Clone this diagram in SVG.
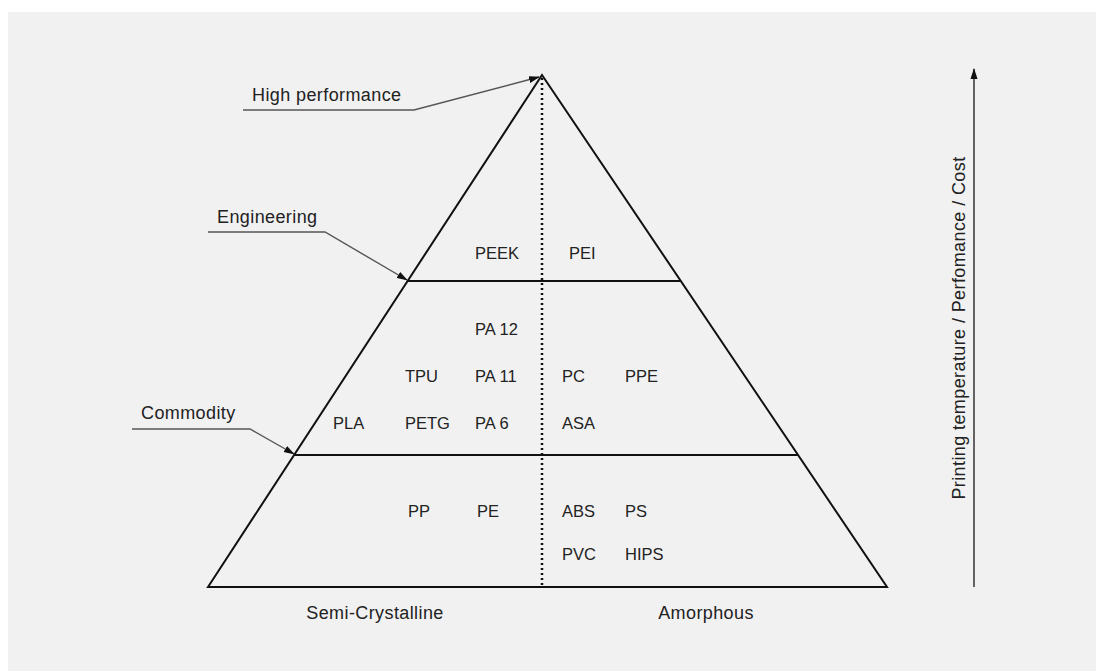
<svg xmlns="http://www.w3.org/2000/svg" width="1096" height="671" viewBox="0 0 1096 671">
<style>
text{font-family:"Liberation Sans",Arial,sans-serif;fill:#222}
.cap{font-size:18px;letter-spacing:0.4px}
.mat{font-size:16.5px}
.py{stroke:#111;stroke-width:2;fill:none}
.ld{stroke:#555;stroke-width:1.4;fill:none}
</style>
<defs>
<marker id="ah" markerWidth="11" markerHeight="8" refX="10" refY="4" orient="auto" markerUnits="userSpaceOnUse">
<path d="M0,0.5 L11,4 L0,7.5 Z" fill="#111"/>
</marker>
</defs>
<rect x="0" y="0" width="1096" height="671" fill="#fff"/>
<rect x="8" y="12" width="1088" height="659" fill="#f1f1f1"/>
<g id="pyramid">
<path class="py" d="M208,587 L542,75 L887,587 Z"/>
<line class="py" x1="407.6" y1="281" x2="680.8" y2="281"/>
<line class="py" x1="294" y1="455" x2="798" y2="455"/>
<line x1="542" y1="78" x2="542" y2="587" stroke="#111" stroke-width="2.5" stroke-dasharray="2,3"/>
</g>
<g id="connectors">
<path class="ld" d="M243,110 L414,110 L539,77" marker-end="url(#ah)"/>
<path class="ld" d="M208,232 L325,232 L407,280" marker-end="url(#ah)"/>
<path class="ld" d="M132,429 L250,429 L294,454" marker-end="url(#ah)"/>
<line x1="974" y1="587" x2="974" y2="69" stroke="#333" stroke-width="1.5" marker-end="url(#ah)"/>
</g>
<g id="labels">
<text class="cap" x="252" y="101">High performance</text>
<text class="cap" x="217" y="223">Engineering</text>
<text class="cap" x="141" y="419">Commodity</text>
<text class="cap" x="375" y="619" text-anchor="middle">Semi-Crystalline</text>
<text class="cap" x="706" y="619" text-anchor="middle">Amorphous</text>
<text class="cap" transform="translate(965,328) rotate(-90)" text-anchor="middle">Printing temperature / Perfomance / Cost</text>
</g>
<g id="materials" class="mat">
<text class="mat" x="475" y="259">PEEK</text>
<text class="mat" x="569" y="259">PEI</text>
<text class="mat" x="475" y="335">PA 12</text>
<text class="mat" x="405" y="382">TPU</text>
<text class="mat" x="475" y="382">PA 11</text>
<text class="mat" x="562" y="382">PC</text>
<text class="mat" x="625" y="382">PPE</text>
<text class="mat" x="333" y="429">PLA</text>
<text class="mat" x="405" y="429">PETG</text>
<text class="mat" x="475" y="429">PA 6</text>
<text class="mat" x="562" y="429">ASA</text>
<text class="mat" x="408" y="517">PP</text>
<text class="mat" x="477" y="517">PE</text>
<text class="mat" x="562" y="517">ABS</text>
<text class="mat" x="625" y="517">PS</text>
<text class="mat" x="562" y="560">PVC</text>
<text class="mat" x="625" y="560">HIPS</text>
</g>
</svg>
